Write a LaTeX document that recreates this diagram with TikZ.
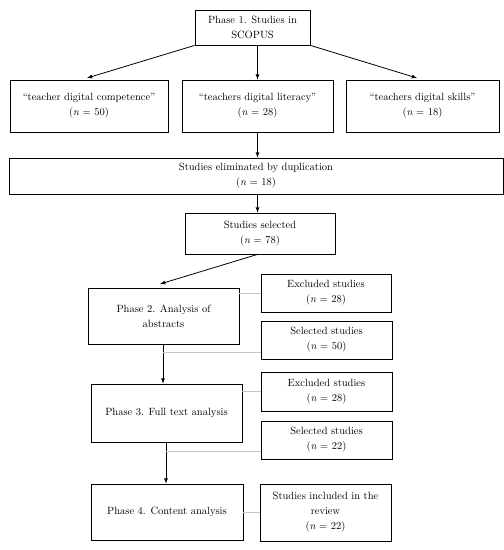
\documentclass[tikz,border=0pt]{standalone}
\usepackage{tikz}
\usepackage{xcolor}

\tikzset{
  box/.style={draw,thick,align=center,inner sep=1pt,font=\fontsize{10.5}{15}\selectfont},
  flow/.style={->,>=latex,thick},
  side/.style={gray!45,thin}
}

\begin{document}
\begin{tikzpicture}[x=1pt,y=-1pt]
\useasboundingbox (0,0) rectangle (504,550);
\node[box,minimum width=115,minimum height=35] (phaseone) at (252.5,27.5) {Phase 1. Studies in\\SCOPUS};
\node[box,minimum width=158,minimum height=52] (competence) at (89,106) {``teacher digital competence''\\(\textit{n} = 50)};
\node[box,minimum width=151,minimum height=52] (literacy) at (257.5,106) {``teachers digital literacy''\\(\textit{n} = 28)};
\node[box,minimum width=153,minimum height=52] (skills) at (422.5,106) {``teachers digital skills''\\(\textit{n} = 18)};
\node[box,minimum width=494,minimum height=36] (duplication) at (256,176) {Studies eliminated by duplication\\(\textit{n} = 18)};
\node[box,minimum width=150,minimum height=41] (selected) at (260,233.5) {Studies selected\\(\textit{n} = 78)};
\node[box,minimum width=151,minimum height=56] (phasetwo) at (163.5,316) {Phase 2. Analysis of\\abstracts};
\node[box,minimum width=130,minimum height=38] (excludedone) at (326,293) {Excluded studies\\(\textit{n} = 28)};
\node[box,minimum width=131,minimum height=38] (selectedone) at (326.5,340) {Selected studies\\(\textit{n} = 50)};
\node[box,minimum width=151,minimum height=58] (phasethree) at (166.5,413) {Phase 3. Full text analysis};
\node[box,minimum width=131,minimum height=39] (excludedtwo) at (326.5,391.5) {Excluded studies\\(\textit{n} = 28)};
\node[box,minimum width=131,minimum height=38] (selectedtwo) at (326.5,440) {Selected studies\\(\textit{n} = 22)};
\node[box,minimum width=152,minimum height=56] (phasefour) at (167,512) {Phase 4. Content analysis};
\node[box,minimum width=131,minimum height=57] (included) at (325.5,512.5) {Studies included in the\\review\\(\textit{n} = 22)};
\coordinate (forkone) at (163,352);
\coordinate (forktwo) at (166,451);
\draw[flow] (phaseone.south west) -- (87,78);
\draw[flow] (phaseone.south west -| literacy) -- (literacy.north);
\draw[flow] (phaseone.south east) -- (417,78);
\draw[flow] (literacy.south) -- (literacy.south |- duplication.north);
\draw[flow] (duplication.south -| literacy) -- (selected.north -| literacy);
\draw[flow] (selected.south west -| literacy) -- (160,284);
\draw[flow] (phasetwo.south -| forkone) -- (phasethree.north -| forkone);
\draw[flow] (phasethree.south -| forktwo) -- (phasefour.north -| forktwo);
\draw[side] (phasetwo.east |- excludedone) -- (excludedone.west);
\draw[side] (forkone) -- (forkone -| selectedone.west);
\draw[side] (phasethree.east |- excludedtwo) -- (excludedtwo.west);
\draw[side] (forktwo) -- (forktwo -| selectedtwo.west);
\draw[side] (phasefour.east) -- (included.west |- phasefour);
\end{tikzpicture}
\end{document}
